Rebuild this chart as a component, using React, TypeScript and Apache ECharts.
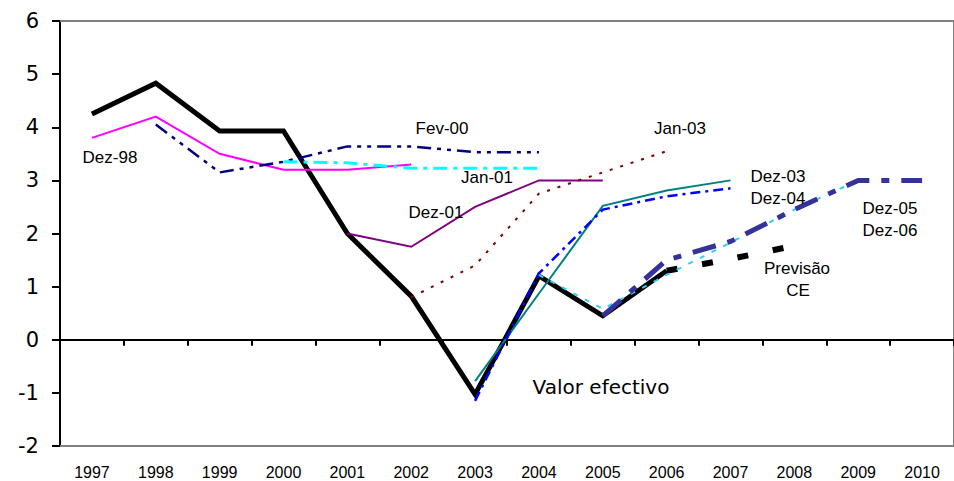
import React, { useEffect, useRef } from "react";
import * as echarts from "echarts";

const years = ["1997","1998","1999","2000","2001","2002","2003","2004","2005","2006","2007","2008","2009","2010"];
const yTicks = [-2, -1, 0, 1, 2, 3, 4, 5, 6];

const _ = null;
const valorEfectivo = [4.25, 4.83, 3.93, 3.93, 2.0, 0.82, -1.03, 1.2, 0.45, 1.3, _, _, _, _];
const previsaoCE    = [_, _, _, _, _, _, _, _, _, 1.3, 1.52, 1.77, _, _];
const dez98         = [3.8, 4.2, 3.5, 3.2, 3.2, 3.3, _, _, _, _, _, _, _, _];
const fev00         = [_, 4.05, 3.15, 3.35, 3.64, 3.64, 3.53, 3.53, _, _, _, _, _, _];
const jan01         = [_, _, _, 3.35, 3.33, 3.23, 3.23, 3.23, _, _, _, _, _, _];
const dez01         = [_, _, _, _, 2.0, 1.75, 2.5, 3.0, 3.0, _, _, _, _, _];
const jan03         = [_, _, _, _, _, 0.8, 1.4, 2.75, 3.15, 3.55, _, _, _, _];
const dez03         = [_, _, _, _, _, _, -0.78, 0.87, 2.52, 2.81, 3.0, _, _, _];
const dez04         = [_, _, _, _, _, _, -1.15, 1.25, 2.45, 2.7, 2.85, _, _, _];
const dez05         = [_, _, _, _, _, _, _, 1.22, 0.58, 1.22, 1.83, 2.45, 3.0, _];
const dez06         = [_, _, _, _, _, _, _, _, 0.45, 1.5, 1.85, 2.45, 3.0, 3.0];

const labels = [
  { text: "Dez-98", x: 110, y: 157 },
  { text: "Fev-00", x: 442, y: 128 },
  { text: "Jan-01", x: 487, y: 177 },
  { text: "Dez-01", x: 436, y: 212 },
  { text: "Jan-03", x: 680, y: 128 },
  { text: "Dez-03", x: 778, y: 176 },
  { text: "Dez-04", x: 778, y: 198 },
  { text: "Dez-05", x: 890, y: 208 },
  { text: "Dez-06", x: 890, y: 230 },
  { text: "Previsão", x: 797, y: 268 },
  { text: "CE", x: 798, y: 290 },
];

function line(name: string, data: (number | null)[], color: string, width: number, type: any, z = 2) {
  return {
    name,
    type: "line",
    data,
    symbol: "none",
    connectNulls: false,
    z,
    lineStyle: { color, width, type, cap: "butt", join: "miter" },
  };
}

export default function App() {
  const ref = useRef<HTMLDivElement>(null);
  useEffect(() => {
    if (!ref.current) return;
    const chart = echarts.init(ref.current, null, { renderer: "svg" });
    const option: any = {
      animation: false,
      backgroundColor: "#ffffff",
      grid: {
        left: 60, top: 21, width: 906, height: 425, containLabel: false,
        show: true, borderColor: "#808080", borderWidth: 2, backgroundColor: "transparent",
      },
      xAxis: [
        {
          type: "category",
          data: years,
          position: "bottom",
          boundaryGap: true,
          axisLine: { show: true, onZero: false, lineStyle: { color: "#808080", width: 2 } },
          axisTick: { show: false },
          axisLabel: { color: "#000", fontFamily: "Liberation Sans", fontSize: 16, margin: 18 },
          splitLine: { show: false },
        },
        {
          type: "category",
          data: years,
          position: "bottom",
          boundaryGap: true,
          axisLine: { show: true, onZero: true, lineStyle: { color: "#000", width: 2 } },
          axisTick: { show: true, length: 6, lineStyle: { color: "#000", width: 2 } },
          axisLabel: { show: false },
          splitLine: { show: false },
        },
        {
          type: "category",
          data: years,
          position: "top",
          boundaryGap: true,
          axisLine: { show: true, onZero: false, lineStyle: { color: "#808080", width: 2 } },
          axisTick: { show: false },
          axisLabel: { show: false },
          splitLine: { show: false },
        },
      ],
      yAxis: {
        type: "value",
        min: -2,
        max: 6,
        interval: 1,
        axisLine: { show: true, onZero: false, lineStyle: { color: "#000", width: 2 } },
        axisTick: { show: true, length: 8, lineStyle: { color: "#000", width: 2 } },
        axisLabel: {
          color: "#000",
          fontFamily: "DejaVu Sans",
          fontSize: 21,
          margin: 21,
          align: "right",
          formatter: (v: number) => (yTicks.includes(v) ? String(v) : ""),
        },
        splitLine: { show: false },
      },
      series: [
        line("Valor efectivo", valorEfectivo, "#000000", 5, "solid", 2),
        line("Previsão CE", previsaoCE, "#000000", 6, [11, 25], 3),
        line("Dez-98", dez98, "#FF00FF", 2, "solid", 3),
        line("Fev-00", fev00, "#000080", 2.5, [14, 6, 4, 6, 4, 6], 3),
        line("Jan-01", jan01, "#00FFFF", 3, [14, 6, 4, 6], 3),
        line("Dez-01", dez01, "#800080", 2, "solid", 3),
        line("Jan-03", jan03, "#800000", 2, [3, 8], 3),
        line("Dez-03", dez03, "#008080", 2, "solid", 3),
        line("Dez-04", dez04, "#0000FF", 2.5, [10, 5, 3, 5], 3),
        line("Dez-05", dez05, "#33CCFF", 2, [5, 8], 3),
        line("Dez-06", dez06, "#333399", 5, [24, 12, 8, 12], 4),
      ],
      graphic: [
        ...labels.map((l) => ({
          type: "text",
          x: l.x,
          y: l.y,
          z: 10,
          style: {
            text: l.text,
            font: "17px 'Liberation Sans'",
            fill: "#000",
            align: "center",
            verticalAlign: "middle",
          },
        })),
        {
          type: "text",
          x: 601,
          y: 387,
          z: 10,
          style: {
            text: "Valor efectivo",
            font: "20px 'DejaVu Sans'",
            fill: "#000",
            align: "center",
            verticalAlign: "middle",
          },
        },
      ],
    };
    chart.setOption(option);
    return () => chart.dispose();
  }, []);
  return (
    <div
      ref={ref}
      style={{ position: "fixed", left: 0, top: 0, width: 954, height: 481 }}
    />
  );
}
